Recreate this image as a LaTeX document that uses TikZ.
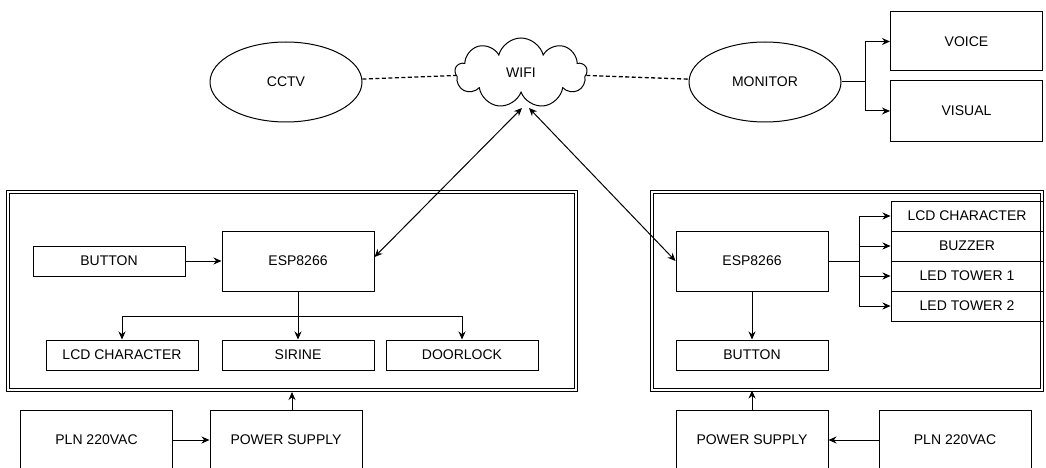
\documentclass[tikz,border=0pt]{standalone}
\usepackage{fontspec}
\setmainfont{Liberation Sans}
\usetikzlibrary{shapes.geometric,shapes.symbols,arrows.meta}

\tikzset{
	blok/.style={draw, rectangle, minimum width=152pt, minimum height=30pt, inner sep=0pt},
	tallblok/.style={blok, minimum height=60pt},
	frame/.style={draw, rectangle, double, double distance=1.6pt, inner sep=0pt},
	round/.style={draw, ellipse, minimum width=152pt, minimum height=80pt, inner sep=0pt},
	link/.style={dashed, line width=1.3pt, dash pattern=on 4pt off 2.5pt}
}

\begin{document}
\begin{tikzpicture}[x=1pt,y=-1pt,line width=1pt,>={Stealth[length=8pt,width=7pt]},
	font=\fontsize{14}{16}\selectfont]
	\useasboundingbox (0,0) rectangle (1046,468);

	% top row
	\node (cctv) [round] at (286, 82) {CCTV};
	\node (wifi) [draw, cloud, cloud puffs=9, aspect=1.8, minimum width=132pt, minimum height=70pt, inner sep=0pt] at (521, 73) {WIFI};
	\node (monitor) [round] at (765, 82) {MONITOR};
	\node (voice) [tallblok, minimum height=59pt] at (966.5, 41.5) {VOICE};
	\node (visual) [tallblok] at (966.5, 111) {VISUAL};

	\draw [link] (cctv) -- (wifi);
	\draw [link] (wifi) -- (monitor);
	\draw (monitor.east) -- (865, 82);
	\draw [->] (865, 82) |- (voice.west);
	\draw [->] (865, 82) |- (visual.west);

	% left unit
	\node (boxL) [frame, minimum width=568pt, minimum height=198pt] at (292, 291) {};
	\node (btnL) [blok] at (109, 261) {BUTTON};
	\node (espL) [tallblok] at (298, 261) {ESP8266};
	\node (lcdL) [blok] at (122, 355) {LCD CHARACTER};
	\node (sirine) [blok] at (298, 355) {SIRINE};
	\node (door) [blok] at (462, 355) {DOORLOCK};
	\node (plnL) [tallblok] at (96.5, 440) {PLN 220VAC};
	\node (psL) [tallblok] at (286, 440) {POWER SUPPLY};

	\draw [->] (btnL) -- (espL);
	\draw [->] (espL) -- (sirine);
	\draw [->] (298, 316) -| (lcdL.north);
	\draw [->] (298, 316) -| (door.north);
	\draw [->] (plnL) -- (psL);
	\draw [->] (292, 410) -- (292, 392);

	% right unit
	\node (boxR) [frame, minimum width=390pt, minimum height=198pt] at (847, 291) {};
	\node (espR) [tallblok] at (752, 261) {ESP8266};
	\node (btnR) [blok] at (752, 355) {BUTTON};
	\node (lcdR) [blok] at (967, 216) {LCD CHARACTER};
	\node (buzzer) [blok] at (967, 246) {BUZZER};
	\node (led1) [blok] at (967, 276) {LED TOWER 1};
	\node (led2) [blok] at (967, 306) {LED TOWER 2};
	\node (psR) [tallblok] at (752, 440) {POWER SUPPLY};
	\node (plnR) [tallblok] at (955, 440) {PLN 220VAC};

	\draw [->] (espR) -- (btnR);
	\draw (espR.east) -- (859, 261);
	\foreach \n in {lcdR, buzzer, led1, led2}
		\draw [->] (859, 261) |- (\n.west);
	\draw [->] (plnR) -- (psR);
	\draw [->] (psR.north) -- (psR.north |- boxR.south);

	% wifi links
	\coordinate (wl) at (522, 108);
	\coordinate (wr) at (529, 108);
	\draw [<->] (espL.east) ++(0,-4) -- (wl);
	\draw [<->] (espR.west) -- (wr);

\end{tikzpicture}
\end{document}
